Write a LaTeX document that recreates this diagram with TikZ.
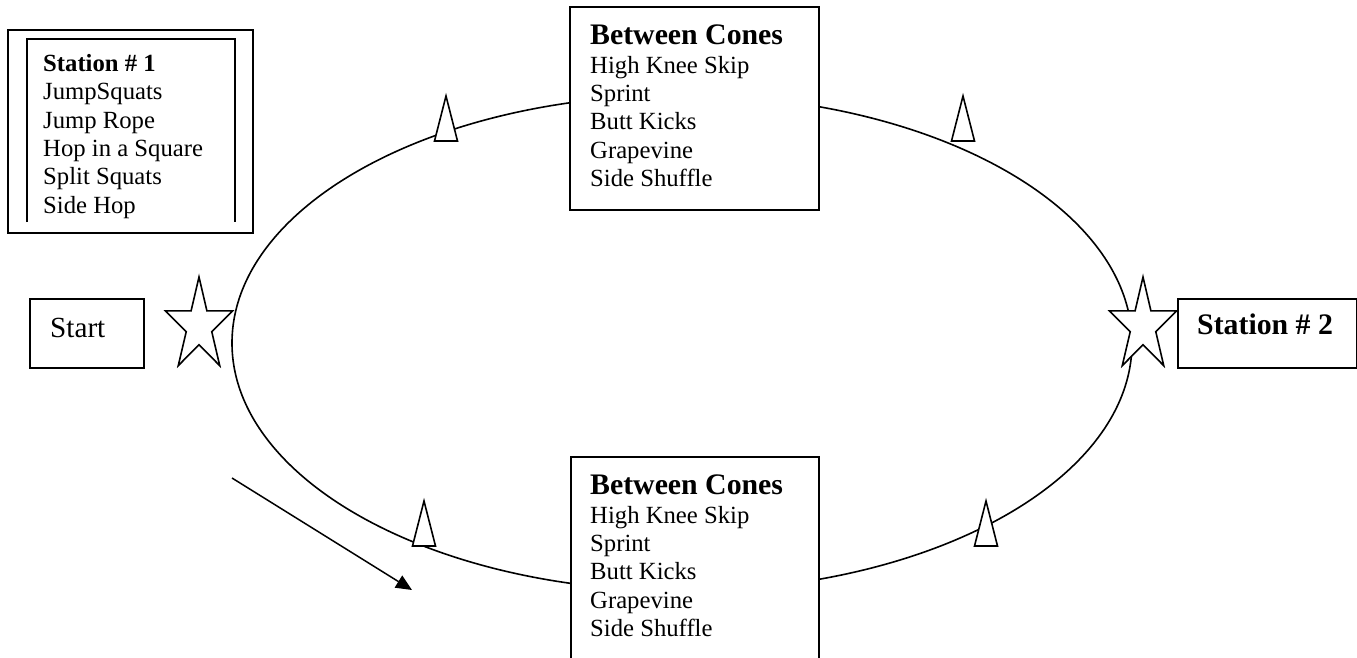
\documentclass[tikz,border=0pt]{standalone}
\usepackage{fontspec}
\setmainfont{Liberation Serif}
\usetikzlibrary{arrows.meta}
\begin{document}
\begin{tikzpicture}[x=1pt,y=-1pt,
  body/.style={anchor=base west, inner sep=0pt, font=\fontsize{24.7}{28}\selectfont},
  bodybold/.style={anchor=base west, inner sep=0pt, font=\fontsize{24.7}{28}\selectfont\bfseries},
  head/.style={anchor=base west, inner sep=0pt, font=\fontsize{29.8}{34}\selectfont\bfseries},
  bigbody/.style={anchor=base west, inner sep=0pt, font=\fontsize{29.2}{34}\selectfont},
  boxstyle/.style={draw, line width=1.7pt, fill=white, inner sep=0pt, anchor=north west},
  pics/mystar/.style={code={
    \draw[line width=1.6pt, fill=white, line join=miter]
      (-90:49) -- (-54:18.7) -- (-18:49) -- (18:18.7) -- (54:49) -- (90:18.7)
      -- (126:49) -- (162:18.7) -- (198:49) -- (234:18.7) -- cycle;}},
  pics/cone/.style={code={
    \draw[line width=1.6pt, fill=white, line join=miter]
      (0,0) -- (11.5,45) -- (-11.5,45) -- cycle;}}
]
\useasboundingbox (0,0) rectangle (1357,657);
\clip (0,0) rectangle (1357,657);

% track
\coordinate (ctr) at (682,343);
\draw[line width=1.6pt] (ctr) ellipse [x radius=450, y radius=248];

% Station 1 box
\node[boxstyle, line width=2.1pt, minimum width=245pt, minimum height=203pt] (st1) at (7,29) {};
\draw[line width=1.2pt] (27,222) -- (27,39) -- (235,39) -- (235,222);
\node[bodybold] (st1h) at (43,71.5) {Station \# 1};
\foreach \t [count=\i] in {JumpSquats, Jump Rope, Hop in a Square, Split Squats, Side Hop}
  \node[body] (st1-\i) at (43,{71.5+28.3*\i}) {\t};

% top between cones box
\node[boxstyle, minimum width=249pt, minimum height=203pt] (topbox) at (569,6) {};
\node[head] (toph) at (590,44) {Between Cones};
\foreach \t [count=\i] in {High Knee Skip, Sprint, Butt Kicks, Grapevine, Side Shuffle}
  \node[body] (top-\i) at (590,{44.6+28.4*\i}) {\t};

% bottom between cones box
\node[boxstyle, minimum width=248pt, minimum height=215pt] (botbox) at (570,456) {};
\node[head] (both) at (590,494) {Between Cones};
\foreach \t [count=\i] in {High Knee Skip, Sprint, Butt Kicks, Grapevine, Side Shuffle}
  \node[body] (bot-\i) at (590,{494.6+28.4*\i}) {\t};

% cones
\pic at (446,96) {cone};
\pic at (963,96) {cone};
\pic at (424,501) {cone};
\pic at (986,501) {cone};

% start and station 2
\node[boxstyle, minimum width=114pt, minimum height=69pt] (startbox) at (29,298) {};
\node[bigbody] (starttxt) at (50,337) {Start};
\node[boxstyle, minimum width=179pt, minimum height=69pt] (st2box) at (1177,298) {};
\node[head] (st2txt) at (1197,334) {Station \# 2};

% stars
\pic[xscale=0.72] at (199,326) {mystar};
\pic[xscale=0.72] at (1143,326) {mystar};

% direction arrow
\coordinate (arrS) at (232,478);
\coordinate (arrE) at (412,590);
\draw[line width=1.5pt, -{Triangle[length=16pt,width=14pt]}] (arrS) -- (arrE);
\end{tikzpicture}
\end{document}
